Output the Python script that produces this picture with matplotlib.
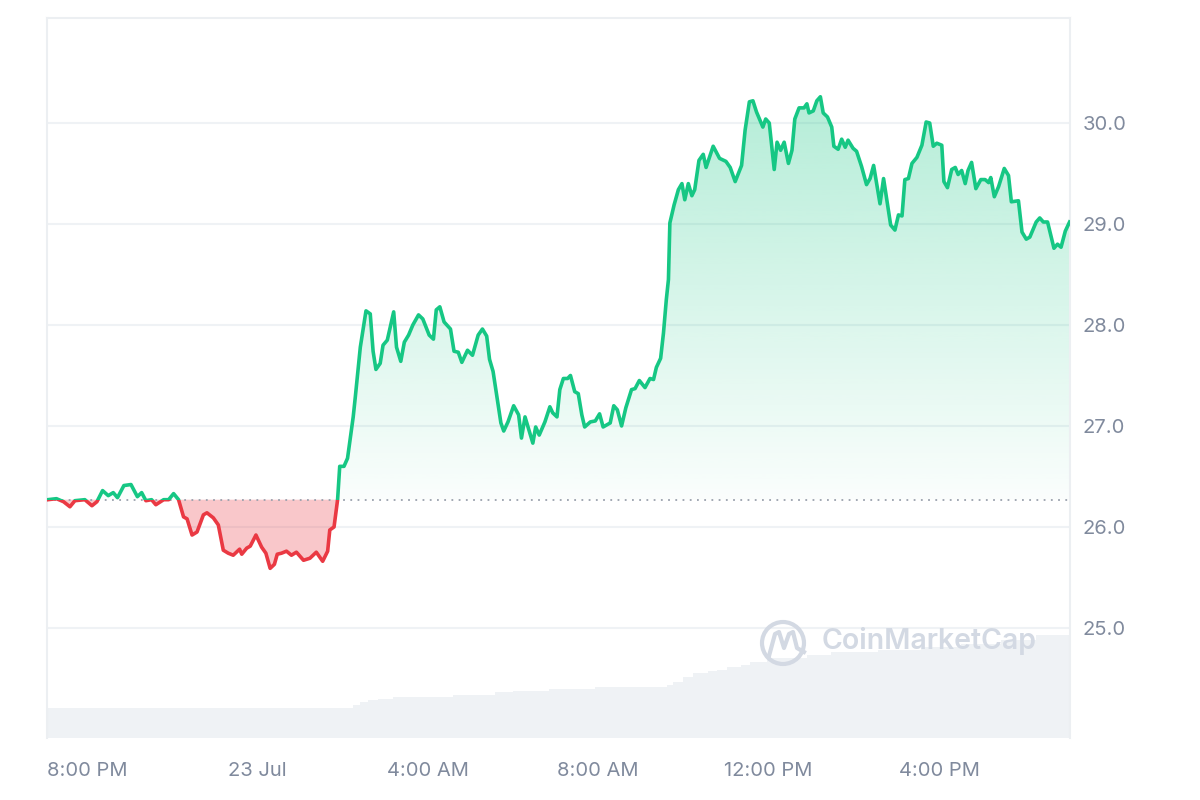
import numpy as np
import matplotlib
matplotlib.use("Agg")
import matplotlib.pyplot as plt
from matplotlib.patches import Rectangle, PathPatch, Ellipse
from matplotlib.path import Path
from matplotlib.lines import Line2D

plt.rcParams['font.family'] = ['Inter', 'DejaVu Sans']

## data ---------------------------------------------------------------
# minutes after 19:00 on 22 Jul
times = [5, 17, 27, 36, 43, 57, 67, 74, 82, 90, 97, 103, 112, 122, 131, 137, 143, 151, 157, 168,
         175, 182, 189, 196, 201, 208, 215, 224, 229, 238, 245, 252, 259, 266, 275, 278, 285, 290,
         298, 306, 312, 318, 324, 328, 334, 341, 348, 355, 365, 374, 383, 392, 399, 402, 408, 413,
         416, 422, 427, 435, 438, 445, 453, 459, 463, 467, 473, 477, 483, 492, 496, 502, 507, 513,
         519, 527, 533, 542, 548, 552, 557, 563, 572, 577, 583, 588, 596, 603, 611, 617, 623, 627,
         632, 638, 643, 647, 653, 661, 668, 672, 677, 688, 692, 697, 705, 712, 716, 722, 726, 731,
         737, 741, 747, 752, 757, 761, 769, 776, 782, 787, 797, 802, 807, 813, 819, 827, 832, 838,
         846, 853, 858, 862, 868, 872, 876, 879, 881, 887, 893, 898, 902, 907, 912, 916, 922, 928,
         932, 942, 951, 960, 966, 973, 982, 987, 993, 998, 1003, 1012, 1016, 1021, 1028, 1032, 1037,
         1042, 1048, 1053, 1057, 1063, 1070, 1074, 1077, 1083, 1088, 1093, 1097, 1103, 1109, 1112,
         1118, 1123, 1128, 1132, 1139, 1144, 1151, 1158, 1163, 1168, 1177, 1182, 1192, 1198, 1203,
         1208, 1212, 1217, 1222, 1229, 1236, 1242, 1247, 1252, 1257, 1264, 1267, 1272, 1278, 1283,
         1287, 1292, 1297, 1301, 1306, 1312, 1319, 1325, 1330, 1333, 1338, 1344, 1352, 1358, 1362,
         1372, 1377, 1383, 1388, 1397, 1402, 1407, 1413, 1422, 1427, 1432, 1438, 1444]
prices = [26.27, 26.28, 26.25, 26.20, 26.26, 26.27, 26.21, 26.25, 26.36, 26.31, 26.34, 26.29, 26.41,
          26.42, 26.30, 26.34, 26.26, 26.27, 26.22, 26.27, 26.27, 26.33, 26.27, 26.10, 26.08, 25.92,
          25.95, 26.12, 26.14, 26.09, 26.02, 25.77, 25.74, 25.72, 25.78, 25.73, 25.79, 25.81, 25.92,
          25.80, 25.74, 25.59, 25.63, 25.73, 25.74, 25.76, 25.72, 25.75, 25.67, 25.69, 25.75, 25.66,
          25.76, 25.97, 26.00, 26.27, 26.60, 26.60, 26.68, 27.09, 27.29, 27.78, 28.14, 28.11, 27.74,
          27.56, 27.62, 27.80, 27.85, 28.13, 27.78, 27.64, 27.83, 27.90, 28.00, 28.10, 28.06, 27.90,
          27.86, 28.15, 28.18, 28.03, 27.96, 27.74, 27.73, 27.63, 27.75, 27.70, 27.90, 27.96, 27.89,
          27.66, 27.54, 27.26, 27.03, 26.95, 27.04, 27.20, 27.11, 26.88, 27.09, 26.83, 26.99, 26.91,
          27.04, 27.19, 27.13, 27.09, 27.36, 27.47, 27.47, 27.50, 27.34, 27.32, 27.11, 26.99, 27.04,
          27.05, 27.12, 26.99, 27.03, 27.20, 27.16, 27.00, 27.18, 27.36, 27.37, 27.45, 27.38, 27.47,
          27.46, 27.58, 27.67, 27.92, 28.25, 28.45, 29.01, 29.19, 29.34, 29.40, 29.24, 29.40, 29.28,
          29.34, 29.63, 29.69, 29.56, 29.77, 29.65, 29.62, 29.56, 29.42, 29.58, 29.93, 30.21, 30.22,
          30.11, 29.96, 30.04, 30.00, 29.54, 29.81, 29.73, 29.81, 29.60, 29.73, 30.04, 30.15, 30.15,
          30.19, 30.10, 30.12, 30.22, 30.26, 30.10, 30.06, 29.96, 29.77, 29.74, 29.84, 29.76, 29.83,
          29.75, 29.72, 29.57, 29.39, 29.45, 29.58, 29.20, 29.45, 28.99, 28.94, 29.09, 29.08, 29.44,
          29.45, 29.60, 29.66, 29.78, 30.01, 30.00, 29.77, 29.80, 29.78, 29.42, 29.36, 29.54, 29.56,
          29.49, 29.53, 29.40, 29.53, 29.61, 29.35, 29.44, 29.44, 29.41, 29.46, 29.27, 29.37, 29.55,
          29.48, 29.22, 29.23, 28.92, 28.85, 28.87, 29.02, 29.06, 29.02, 29.02, 28.76, 28.80, 28.77,
          28.93, 29.02]
base_price = 26.27

# volume (millions), step levels starting at the given minute
vol_times = [4, 435, 445, 456, 470, 491, 576, 635, 660, 711, 776, 877, 885, 900, 914, 935, 947,
             962, 981, 994, 1018, 1074, 1108, 1174, 1235, 1291, 1347, 1397, 1445]
vol_values = [3.0, 3.3, 3.6, 3.8, 3.9, 4.1, 4.3, 4.6, 4.7, 4.9, 5.1, 5.3, 5.6, 6.1, 6.5, 6.7, 6.8,
              7.1, 7.3, 7.6, 8.0, 8.3, 8.6, 8.8, 9.1, 9.4, 9.8, 10.3, 10.3]

tick_pos = [60, 300, 540, 780, 1020, 1260]
tick_labels = ['8:00 PM', '23 Jul', '4:00 AM', '8:00 AM', '12:00 PM', '4:00 PM']
y_ticks = [25.0, 26.0, 27.0, 28.0, 29.0, 30.0]

green = '#16c784'
red = '#ea3943'
grey_txt = '#808a9d'

t = np.array(times, dtype=float)
p = np.array(prices)
xmin, xmax = 3.7, 1444.6
ymin, ymax = 23.91, 31.04

fig = plt.figure(figsize=(12, 8), dpi=100)
rect = [47/1200, 62/800, 1023/1200, 720/800]

# volume underneath
ax_v = fig.add_axes(rect)
ax_v.fill_between(vol_times, vol_values, step='post', color='#eff2f5', lw=0)
ax_v.set_xlim(xmin, xmax)
ax_v.set_ylim(0, 72)
ax_v.axis('off')

ax = fig.add_axes(rect)
ax.set_facecolor('none')
ax.set_xlim(xmin, xmax)
ax.set_ylim(ymin, ymax)

# red fill below baseline
ax.fill_between(t, p, base_price, where=p <= base_price, interpolate=True,
                color=red, alpha=0.28, lw=0, zorder=2)

# green gradient fill above baseline
poly = ax.fill_between(t, p, base_price, where=p >= base_price, interpolate=True,
                       color='none', lw=0)
clip = PathPatch(Path.make_compound_path(*poly.get_paths()), transform=ax.transData,
                 facecolor='none', edgecolor='none')
ax.add_patch(clip)
grad = np.zeros((256, 1, 4))
grad[:, 0, 0] = 22/255
grad[:, 0, 1] = 199/255
grad[:, 0, 2] = 132/255
grad[:, 0, 3] = np.linspace(0.02, 0.32, 256)
im = ax.imshow(grad, extent=[xmin, xmax, base_price, p.max()], origin='lower',
               aspect='auto', zorder=2, interpolation='bicubic')
im.set_clip_path(clip)

# line, green above baseline and red below
up = Rectangle((xmin, base_price), xmax - xmin, ymax - base_price, transform=ax.transData)
down = Rectangle((xmin, ymin), xmax - xmin, base_price - ymin, transform=ax.transData)
lg, = ax.plot(t, p, color=green, lw=2.6, zorder=4, solid_joinstyle='round')
lr, = ax.plot(t, p, color=red, lw=2.6, zorder=4, solid_joinstyle='round')
lg.set_clip_path(up)
lr.set_clip_path(down)

ax.axhline(base_price, color='#9aa1ad', ls=(0, (1, 3)), lw=1.3, zorder=3)

ax.set_xlim(xmin, xmax)
ax.set_ylim(ymin, ymax)

ax.set_yticks(y_ticks)
ax.set_yticklabels(['%.1f' % v for v in y_ticks])
ax.yaxis.tick_right()
ax.set_xticks(tick_pos)
ax.set_xticklabels(tick_labels)
ax.tick_params(axis='y', length=0, pad=9, labelsize=14.5, labelcolor=grey_txt)
ax.tick_params(axis='x', length=0, pad=17, labelsize=14.5, labelcolor=grey_txt)
ax.grid(axis='y', color='#eff2f5', lw=1.5, zorder=1)
ax.set_axisbelow(True)

for s in ['top', 'left', 'right']:
    ax.spines[s].set_color('#eceff2')
    ax.spines[s].set_linewidth(1.5)
ax.spines['bottom'].set_visible(False)

# watermark
def fpx(x, y):
    return x / 1200, 1 - y / 800

fig.add_artist(Ellipse(fpx(783, 643), 42/1200, 42/800, transform=fig.transFigure,
                       fill=False, edgecolor='#d3d9e3', lw=3, zorder=5))
mx = [769, 775, 779, 784, 789, 793, 797, 804]
my = [656, 634, 632, 648, 634, 632, 648, 652]
fig.add_artist(Line2D([fpx(a, b)[0] for a, b in zip(mx, my)],
                      [fpx(a, b)[1] for a, b in zip(mx, my)],
                      transform=fig.transFigure, color='#d3d9e3', lw=3, zorder=5))
fig.text(822/1200, 1 - 641/800, 'CoinMarketCap', fontsize=20.5, fontweight='semibold',
         color='#d3d9e3', va='center', ha='left')

fig.savefig('out.png', dpi=100, facecolor='white')
